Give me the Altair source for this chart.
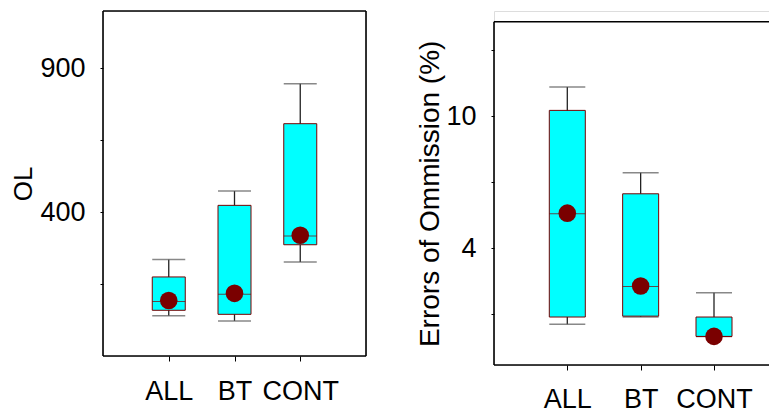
import altair as alt
import pandas as pd

cats = ["ALL", "BT", "CONT"]

# Left panel: OL
ol_low = [40, 22, 227]
ol_q1 = [59, 45, 287]
ol_med = [90, 115, 317]
ol_q3 = [175, 424, 708]
ol_high = [236, 474, 847]
ol_mean = [93, 118, 320]

# Right panel: Errors of Ommission (%)
eo_low = [0.55, 0.88, 0.0]
eo_q1 = [0.88, 0.92, 0.0]
eo_med = [5.57, 2.27, 0.0]
eo_q3 = [10.27, 6.48, 0.88]
eo_high = [11.33, 7.44, 1.98]
eo_mean = [5.6, 2.29, 0.0]

FONT = "Liberation Sans"
CYAN = "#00FFFF"
MAROON = "#7A0000"


def make_df(low, q1, med, q3, high, mean):
    return pd.DataFrame({"cat": cats, "low": low, "q1": q1, "med": med,
                         "q3": q3, "high": high, "mean": mean})


def panel(df, ytitle, yscale, ytick_values, ylabel_values, w, h, frame_top,
          xscale, box_w, lab_size, title_size, title_pad, xlab_pad, right_side):
    label_expr = " || ".join(f"datum.value == {v}" for v in ylabel_values)
    yaxis = alt.Axis(title=ytitle, values=ytick_values,
                     labelExpr=f"({label_expr}) ? datum.label : ''",
                     tickSize=3, tickColor="black", labelPadding=15,
                     domain=False, grid=False, labelOverlap=False,
                     labelFontSize=lab_size, titleFontSize=title_size,
                     titleFontWeight="normal", titlePadding=title_pad,
                     labelColor="black", titleColor="black")
    xenc = alt.X("cat:N", sort=cats, scale=xscale,
                 axis=alt.Axis(title=None, labelAngle=0, domain=False,
                               tickSize=5, tickColor="black", labelPadding=xlab_pad,
                               labelFontSize=lab_size, labelColor="black",
                               grid=False))
    base = alt.Chart(df)
    whisk = base.mark_rule(color="#222222", strokeWidth=1.3).encode(
        x=xenc, y=alt.Y("low:Q", scale=yscale, axis=yaxis), y2="high:Q")
    caps_lo = base.mark_tick(color="#555555", size=box_w, thickness=1.5).encode(
        x=xenc, y=alt.Y("low:Q", scale=yscale, axis=yaxis))
    caps_hi = base.mark_tick(color="#555555", size=box_w, thickness=1.5).encode(
        x=xenc, y=alt.Y("high:Q", scale=yscale, axis=yaxis))
    box = base.mark_bar(fill=CYAN, stroke=MAROON, strokeWidth=1, size=box_w).encode(
        x=xenc, y=alt.Y("q1:Q", scale=yscale, axis=yaxis), y2="q3:Q")
    med = base.mark_tick(color=MAROON, size=box_w, thickness=1).encode(
        x=xenc, y=alt.Y("med:Q", scale=yscale, axis=yaxis))
    dot = base.mark_circle(color=MAROON, opacity=1, size=310).encode(
        x=xenc, y=alt.Y("mean:Q", scale=yscale, axis=yaxis))

    one = alt.Chart(pd.DataFrame({"k": [0]}))
    fr = dict(color="black", strokeWidth=1.6)
    layers = [whisk, caps_lo, caps_hi, box, med, dot,
              one.mark_rule(**fr).encode(x=alt.value(0), x2=alt.value(w), y=alt.value(frame_top)),
              one.mark_rule(**fr).encode(x=alt.value(0), y=alt.value(frame_top), y2=alt.value(h)),
              one.mark_rule(**fr).encode(x=alt.value(0), x2=alt.value(w), y=alt.value(h))]
    if right_side:
        layers.append(one.mark_rule(**fr).encode(x=alt.value(w), y=alt.value(frame_top), y2=alt.value(h)))
    return alt.layer(*layers).properties(width=w, height=h)


left_df = make_df(ol_low, ol_q1, ol_med, ol_q3, ol_high, ol_mean)
right_df = make_df(eo_low, eo_q1, eo_med, eo_q3, eo_high, eo_mean)

LW, LH = 263, 345
left_chart = panel(left_df, "OL",
                   alt.Scale(domain=[-100, 1100], nice=False, zero=False),
                   [150, 400, 650, 900], [400, 900], LW, LH, 0,
                   alt.Scale(type="point", padding=1), 33, 27, 26, 3, 17, True)

RW, RH = 281, 354
RTOP = 10.7
right_chart = panel(right_df, "Errors of Ommission (%)",
                    alt.Scale(domain=[-1.3, 14.3], range=[RH, RTOP], nice=False, zero=False),
                    [1, 4, 7, 10, 13], [4, 10], RW, RH, RTOP,
                    alt.Scale(type="point", padding=0, range=[73.3, 220]),
                    36, 27, 28, 1, 16, False)

chart = alt.hconcat(left_chart, right_chart, spacing=48).properties(
    padding={"left": 2, "top": 1, "right": -8, "bottom": 0}
).configure_view(stroke=None).configure(font=FONT)

chart.save("out.html", embed_options={"renderer": "svg", "actions": False})
